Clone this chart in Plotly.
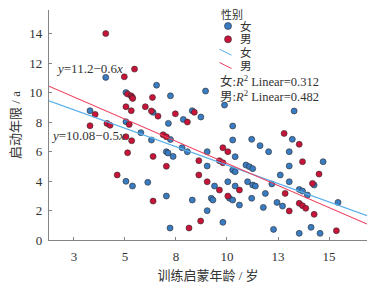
import plotly.graph_objects as go

# ---- data ----
female_age = [4.06, 5.05, 6.55, 7.23, 6.38, 7.86, 7.13, 7.23, 6.30, 5.78, 5.05, 3.29, 7.80,
              5.05, 5.37, 6.12, 7.03, 7.21, 7.03, 7.11, 7.36, 8.06, 8.95, 8.30, 8.72, 9.88,
              10.28, 10.28, 11.21, 11.62, 13.29, 13.20, 9.03, 10.40, 12.04, 13.05, 9.03, 13.05,
              14.71, 10.93, 11.10, 11.26, 10.28, 10.40, 9.39, 10.04, 10.40, 11.01, 11.26, 11.39,
              10.12, 10.28, 10.61, 9.23, 9.31, 8.30, 9.03, 9.80, 11.21, 11.78, 11.88, 12.20,
              12.61, 13.05, 12.45, 12.72, 13.54, 13.70, 13.94, 14.27, 15.44, 12.28, 13.54,
              14.12, 14.56]
female_years = [11.03, 10.00, 10.50, 9.78, 8.66, 8.18, 7.91, 6.82, 6.78, 7.28, 8.02, 8.77, 6.26,
                3.98, 3.66, 3.91, 2.98, 0.81, 5.99, 5.90, 5.67, 5.99, 10.10, 8.77, 8.34, 9.15,
                7.73, 6.78, 6.83, 6.40, 8.75, 6.83, 5.99, 5.65, 5.99, 5.99, 5.02, 5.02,
                5.31, 5.08, 4.97, 4.84, 4.75, 4.63, 3.66, 3.95, 3.66, 3.95, 3.73, 3.66,
                2.83, 2.71, 2.37, 2.83, 2.71, 2.71, 1.99, 1.20, 2.83, 2.21, 3.16, 3.80,
                4.41, 3.95, 2.55, 2.30, 3.43, 3.32, 3.05, 3.73, 2.55, 0.72, 0.45,
                0.86, 0.45]

male_age = [4.06, 5.47, 4.97, 5.13, 5.30, 5.36, 5.38, 6.35, 6.00, 6.30, 6.62, 7.47, 8.06,
            6.87, 7.03, 5.05, 5.33, 5.21, 5.05, 5.31, 3.54, 3.29, 4.12, 4.27, 4.62, 5.13,
            6.38, 7.03, 6.38, 8.14, 8.40, 9.80, 12.80, 13.54, 10.04, 8.62, 9.63, 9.80,
            13.70, 8.62, 9.03, 9.63, 10.61, 10.04, 8.71, 12.85, 13.05, 13.54, 13.70, 13.86,
            14.27, 14.19, 14.51, 15.36]
male_years = [14.00, 11.59, 11.07, 9.90, 9.78, 9.68, 9.60, 9.67, 9.04, 8.75, 8.40, 8.56, 8.00,
              7.14, 7.00, 7.00, 6.73, 7.84, 9.04, 8.77, 8.52, 7.75, 7.91, 7.78, 4.41, 5.92,
              5.67, 5.00, 2.64, 0.81, 8.66, 6.26, 7.23, 6.49, 5.99, 5.38, 5.38, 5.24,
              5.31, 4.41, 3.95, 3.39, 3.39, 2.98, 1.29, 3.16, 1.97, 2.49, 2.33, 2.15,
              1.74, 3.84, 4.47, 0.63]

# regression fits shown on the chart: y = intercept + slope * x
fit_female = [10.08, -0.5]
fit_male = [11.2, -0.6]
r2_female = 0.312
r2_male = 0.482

x_tickvals = [2.5, 5, 7.5, 10, 12.5, 15]
x_ticktext = ["3", "5", "8", "10", "13", "15"]
y_tickvals = [0, 2, 4, 6, 8, 10, 12, 14]

x_range = [1.28, 16.86]
y_range = [0, 15.6]

# ---- styling ----
BLUE = "#3a7cc2"
RED = "#c9143a"
BLUE_LINE = "#5ab0ea"
RED_LINE = "#ee3f5f"
FONT = "'Liberation Serif', 'Times New Roman', 'Noto Sans CJK SC', serif"
TXT = "#333333"
AXIS = "#858585"

# the page body adds an 8px margin, so the figure is sized to fit the 379x288 window
OFF = 8
W, H = 379 - OFF, 288 - OFF
ML, MR, MT, MB = 41, 12, 2, 48
PW, PH = W - ML - MR, H - MT - MB


def px2paper(px, py):
    """window pixel -> paper coords"""
    return (px - OFF - ML) / PW, (H - MB - (py - OFF)) / PH


fig = go.Figure()

for nm, xs, ys, col in [("女", female_age, female_years, BLUE),
                        ("男", male_age, male_years, RED)]:
    fig.add_trace(go.Scatter(
        x=xs, y=ys, mode="markers", name=nm, showlegend=False,
        marker=dict(color=col, size=6, line=dict(color="#2a2a2a", width=0.6)),
    ))

for nm, fit, col in [("女", fit_female, BLUE_LINE), ("男", fit_male, RED_LINE)]:
    fig.add_trace(go.Scatter(
        x=x_range, y=[fit[0] + fit[1] * x_range[0], fit[0] + fit[1] * x_range[1]],
        mode="lines", name=nm, showlegend=False,
        line=dict(color=col, width=1.1),
    ))

annotations = []
shapes = []

# equation labels
for txt, (px, py) in [("<i>y</i>=11.2−0.6<i>x</i>", (54, 68)),
                      ("<i>y</i>=10.08−0.5<i>x</i>", (49, 136))]:
    xp, yp = px2paper(px, py)
    annotations.append(dict(x=xp, y=yp, xref="paper", yref="paper", text=txt,
                            showarrow=False, xanchor="left", yanchor="middle",
                            font=dict(family=FONT, size=13, color=TXT)))

# manual legend (compact layout as in reference)
def legend_text(txt, px, py, size=11.5):
    xp, yp = px2paper(px, py)
    annotations.append(dict(x=xp, y=yp, xref="paper", yref="paper", text=txt,
                            showarrow=False, xanchor="left", yanchor="middle",
                            font=dict(family=FONT, size=size, color=TXT)))

legend_text("性别", 219, 14.5, 11)
for i, (nm, col) in enumerate([("女", BLUE), ("男", RED)]):
    cy = 26 + 13.3 * i
    xa, ya = px2paper(228, cy)
    shapes.append(dict(type="circle", xref="paper", yref="paper",
                       xsizemode="pixel", ysizemode="pixel", xanchor=xa, yanchor=ya,
                       x0=-3.5, x1=3.5, y0=-3.5, y1=3.5,
                       fillcolor=col, line=dict(color="#2a2a2a", width=0.6)))
    legend_text(nm, 238, cy)
for i, (nm, col) in enumerate([("女", BLUE_LINE), ("男", RED_LINE)]):
    cy = 52.2 + 13.3 * i
    x0, y0 = px2paper(219.5, cy - 3)
    x1, y1 = px2paper(231.5, cy + 3)
    shapes.append(dict(type="line", xref="paper", yref="paper",
                       x0=x0, y0=y0, x1=x1, y1=y1, line=dict(color=col, width=1)))
    legend_text(nm, 238, cy)

legend_text(f"女:<i>R</i><sup>2</sup> Linear={r2_female}", 218, 81, 12.5)
legend_text(f"男:<i>R</i><sup>2</sup> Linear={r2_male}", 218, 96, 12.5)

axis_common = dict(showgrid=False, zeroline=False, showline=True, linecolor=AXIS,
                   linewidth=1.3, ticks="inside", ticklen=3, tickcolor=AXIS, tickwidth=1,
                   automargin=False,
                   tickfont=dict(family=FONT, size=13, color=TXT))

fig.update_layout(
    width=W, height=H,
    margin=dict(l=ML, r=MR, t=MT, b=MB),
    paper_bgcolor="white", plot_bgcolor="white",
    showlegend=False,
    xaxis=dict(range=x_range, tickvals=x_tickvals, ticktext=x_ticktext,
               ticklabelstandoff=4,
               title=dict(text="训练启蒙年龄 / 岁", standoff=8,
                          font=dict(family=FONT, size=13, color=TXT)),
               **axis_common),
    yaxis=dict(range=y_range, tickvals=y_tickvals, ticklabelstandoff=3,
               title=dict(text="启动年限 / a", standoff=8,
                          font=dict(family=FONT, size=13, color=TXT)),
               **axis_common),
    annotations=annotations,
    shapes=shapes,
)

fig.write_html("out.html")
